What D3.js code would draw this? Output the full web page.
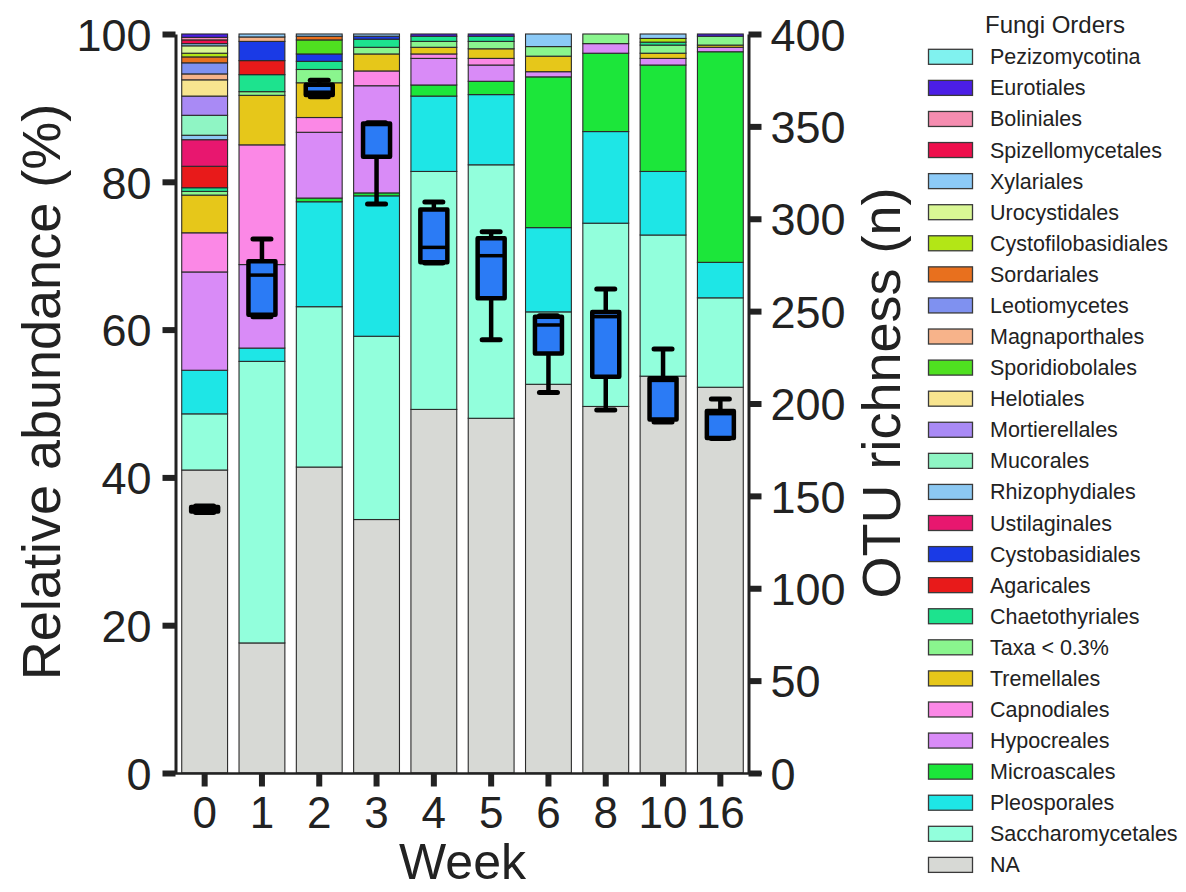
<!DOCTYPE html>
<html>
<head>
<meta charset="utf-8">
<script src="https://cdn.jsdelivr.net/npm/d3@7"></script>
<style>
  html, body { margin: 0; padding: 0; background: #fff; }
  svg { display: block; font-family: "Liberation Sans", Arial, sans-serif; }
</style>
</head>
<body>
<svg id="chart" width="1186" height="892"></svg>
<script>
// Sampling weeks (x categories)
const weeks = ["0", "1", "2", "3", "4", "5", "6", "8", "10", "16"];

// Fungal orders, listed top of legend to bottom (= top of stack to bottom)
const orders = [
  "Pezizomycotina", "Eurotiales", "Boliniales", "Spizellomycetales", "Xylariales",
  "Urocystidales", "Cystofilobasidiales", "Sordariales", "Leotiomycetes", "Magnaporthales",
  "Sporidiobolales", "Helotiales", "Mortierellales", "Mucorales", "Rhizophydiales",
  "Ustilaginales", "Cystobasidiales", "Agaricales", "Chaetothyriales", "Taxa < 0.3%",
  "Tremellales", "Capnodiales", "Hypocreales", "Microascales", "Pleosporales",
  "Saccharomycetales", "NA"
];
const orderColors = [
  "#80f2ef", "#4b1ee6", "#f58db0", "#ee0f4c", "#8ccaf7",
  "#d9f795", "#b3e616", "#e8701e", "#7f91f0", "#f7b38a",
  "#4fe020", "#f8e58f", "#a98af5", "#8ff5c4", "#8cc8f2",
  "#e8176f", "#1a3ae6", "#e81a1a", "#1de38e", "#8af58e",
  "#e6c71a", "#fb88e6", "#d98bf7", "#1ce63a", "#1ee6e6",
  "#92ffdc", "#d7d9d5"
];

// Relative abundance (%) per order, one value per week
const pezizomycotina      = [0, 0, 0, 0, 0, 0, 0, 0, 0, 0];
const eurotiales          = [0.45, 0, 0, 0, 0.3, 0.3, 0, 0, 0, 0.3];
const boliniales          = [0.35, 0, 0, 0, 0, 0, 0, 0, 0, 0];
const spizellomycetales   = [0.5, 0, 0, 0, 0, 0, 0, 0, 0, 0];
const xylariales          = [0.3, 0.4, 0.3, 0.3, 0, 0, 1.7, 0, 0.6, 0];
const urocystidales       = [1.0, 0, 0, 0, 0, 0, 0, 0, 0, 0];
const cystofilobasidiales = [0.5, 0, 0, 0, 0, 0, 0, 0, 0.5, 0];
const sordariales         = [0.8, 0, 0.5, 0, 0, 0, 0, 0, 0, 0];
const leotiomycetes       = [1.5, 0, 0, 0, 0, 0, 0, 0, 0, 0];
const magnaporthales      = [0.8, 0.6, 0, 0, 0, 0, 0, 0, 0, 0];
const sporidiobolales     = [0, 0, 1.9, 0, 0, 0, 0, 0, 0, 0];
const helotiales          = [2.2, 0, 0, 0, 0, 0, 0, 0, 0, 0];
const mortierellales      = [2.6, 0, 0, 0, 0, 0, 0, 0, 0, 0];
const mucorales           = [2.7, 0, 0, 0, 0, 0, 0, 0, 0, 0];
const rhizophydiales      = [0.6, 0, 0, 0, 0, 0, 0, 0, 0, 0];
const ustilaginales       = [3.6, 0, 0, 0, 0, 0, 0, 0, 0, 0];
const cystobasidiales     = [0, 2.6, 1.0, 0.4, 0, 0, 0, 0, 0, 0];
const agaricales          = [2.9, 1.9, 0, 0, 0, 0, 0, 0, 0, 0];
const chaetothyriales     = [0.5, 2.3, 1.1, 1.1, 0.7, 0.7, 0, 0, 0.4, 0];
const taxaMinor           = [0.5, 0.5, 1.8, 0.9, 0.8, 1.0, 1.3, 1.3, 1.1, 1.2];
const tremellales         = [5.1, 6.7, 4.7, 2.3, 0.9, 1.3, 2.1, 0, 0.7, 0.3];
const capnodiales         = [5.3, 16.2, 2.0, 2.0, 0.6, 0.9, 0, 0, 0, 0];
const hypocreales         = [13.3, 11.3, 8.9, 14.5, 3.6, 2.2, 0.7, 1.3, 0.9, 0.6];
const microascales        = [0, 0, 0.5, 0.4, 1.5, 1.8, 20.4, 10.6, 14.4, 28.5];
const pleosporales        = [5.9, 1.8, 14.2, 19.0, 10.2, 9.5, 11.4, 12.4, 8.6, 4.8];
const saccharomycetales   = [7.6, 38.1, 21.7, 24.8, 32.2, 34.3, 9.8, 24.8, 19.1, 12.1];
const unassigned          = [41.0, 17.6, 41.4, 34.3, 49.2, 48.0, 52.6, 49.6, 53.7, 52.2];

const orderValues = [
  pezizomycotina, eurotiales, boliniales, spizellomycetales, xylariales,
  urocystidales, cystofilobasidiales, sordariales, leotiomycetes, magnaporthales,
  sporidiobolales, helotiales, mortierellales, mucorales, rhizophydiales,
  ustilaginales, cystobasidiales, agaricales, chaetothyriales, taxaMinor,
  tremellales, capnodiales, hypocreales, microascales, pleosporales,
  saccharomycetales, unassigned
];

// OTU richness (n) box summaries per week
const otuMin    = [141, 247, 366, 308, 276, 234.5, 206, 196.5, 190, 181];
const otuQ1     = [141.5, 248, 367, 333.5, 276.5, 257, 227, 214.5, 191.3, 181.3];
const otuMedian = [143, 269.5, 368.5, 351, 284.5, 280, 242.5, 247, 212.5, 194.5];
const otuQ3     = [144, 277, 372.5, 351.5, 305, 289.5, 247, 249.5, 213.6, 196];
const otuMax    = [144.5, 289, 375, 352, 309, 293, 247.5, 262, 229.5, 202.5];

// Axis ticks
const abundanceTicks = [0, 20, 40, 60, 80, 100];
const richnessTicks = [0, 50, 100, 150, 200, 250, 300, 350, 400];

// ---------------------------------------------------------------
const svg = d3.select("#chart");
const ink = "#222";

const x = d3.scaleBand(weeks, [176, 749]).paddingInner(0.2).paddingOuter(0.1);
const yLeft = d3.scaleLinear([0, 100], [773, 34]);
const yRight = d3.scaleLinear([0, 400], [773, 34]);
const color = d3.scaleOrdinal(orders, orderColors);

// Table of rows, one per week
const rows = weeks.map((w, i) => {
  const r = { week: w };
  orders.forEach((o, k) => { r[o] = orderValues[k][i]; });
  return r;
});

// Stack from the bottom (NA) upward
const stackKeys = orders.slice().reverse();
const series = d3.stack().keys(stackKeys)(rows);

const bars = svg.append("g").attr("class", "bars");
series.forEach(s => {
  bars.append("g")
    .attr("fill", color(s.key))
    .selectAll("rect")
    .data(s.filter(d => d[1] - d[0] > 0))
    .join("rect")
    .attr("x", d => x(d.data.week))
    .attr("width", x.bandwidth())
    .attr("y", d => yLeft(d[1]))
    .attr("height", d => yLeft(d[0]) - yLeft(d[1]))
    .attr("stroke", "#2b2b2b")
    .attr("stroke-width", 1.1);
});

// Box plots of OTU richness
const boxes = svg.append("g").attr("class", "boxes");
const boxW = 27;
const capW = 18;
weeks.forEach((w, i) => {
  const cx = x(w) + x.bandwidth() / 2;
  const g = boxes.append("g");
  if (otuMax[i] > otuQ3[i]) {
    g.append("line")
      .attr("x1", cx).attr("x2", cx)
      .attr("y1", yRight(otuQ3[i])).attr("y2", yRight(otuMax[i]))
      .attr("stroke", "#000").attr("stroke-width", 4.5);
    g.append("line")
      .attr("x1", cx - capW / 2).attr("x2", cx + capW / 2)
      .attr("y1", yRight(otuMax[i])).attr("y2", yRight(otuMax[i]))
      .attr("stroke", "#000").attr("stroke-width", 5).attr("stroke-linecap", "round");
  }
  if (otuMin[i] < otuQ1[i]) {
    g.append("line")
      .attr("x1", cx).attr("x2", cx)
      .attr("y1", yRight(otuQ1[i])).attr("y2", yRight(otuMin[i]))
      .attr("stroke", "#000").attr("stroke-width", 4.5);
    g.append("line")
      .attr("x1", cx - capW / 2).attr("x2", cx + capW / 2)
      .attr("y1", yRight(otuMin[i])).attr("y2", yRight(otuMin[i]))
      .attr("stroke", "#000").attr("stroke-width", 5).attr("stroke-linecap", "round");
  }
  g.append("rect")
    .attr("x", cx - boxW / 2)
    .attr("width", boxW)
    .attr("y", yRight(otuQ3[i]))
    .attr("height", yRight(otuQ1[i]) - yRight(otuQ3[i]))
    .attr("fill", "#2b7bf5")
    .attr("stroke", "#000")
    .attr("stroke-width", 4.5)
    .attr("stroke-linejoin", "round");
  g.append("line")
    .attr("x1", cx - boxW / 2).attr("x2", cx + boxW / 2)
    .attr("y1", yRight(otuMedian[i])).attr("y2", yRight(otuMedian[i]))
    .attr("stroke", "#000").attr("stroke-width", 3.5);
});

// Axes
const styleAxis = (g, tickWidth) => {
  g.select(".domain").attr("stroke", ink).attr("stroke-width", 3);
  g.selectAll(".tick line").attr("stroke", ink).attr("stroke-width", tickWidth);
  g.selectAll(".tick text").attr("fill", ink).attr("font-family", "Liberation Sans, Arial, sans-serif");
};

const leftAxis = svg.append("g")
  .attr("transform", "translate(175.5,0)")
  .call(d3.axisLeft(yLeft).tickValues(abundanceTicks).tickSize(13).tickSizeOuter(0).tickPadding(11));
styleAxis(leftAxis, 6);
leftAxis.selectAll(".tick text").attr("font-size", 45).attr("dy", "0.36em");

const rightAxis = svg.append("g")
  .attr("transform", "translate(748.5,0)")
  .call(d3.axisRight(yRight).tickValues(richnessTicks).tickSize(13).tickSizeOuter(0).tickPadding(9));
styleAxis(rightAxis, 6);
rightAxis.selectAll(".tick text").attr("font-size", 45).attr("dy", "0.36em");

const bottomAxis = svg.append("g")
  .attr("transform", "translate(0,773.5)")
  .call(d3.axisBottom(x).tickSize(13).tickSizeOuter(0).tickPadding(10));
bottomAxis.select(".domain").attr("d", "M163,0H762").attr("stroke", ink).attr("stroke-width", 2.5);
bottomAxis.selectAll(".tick line").attr("stroke", ink).attr("stroke-width", 6);
bottomAxis.selectAll(".tick text").attr("fill", ink).attr("font-size", 44);

// Axis titles
svg.append("text")
  .attr("transform", "translate(60,392) rotate(-90)")
  .attr("text-anchor", "middle")
  .attr("font-size", 54)
  .attr("fill", ink)
  .text("Relative abundance (%)");

svg.append("text")
  .attr("transform", "translate(900,393) rotate(-90)")
  .attr("text-anchor", "middle")
  .attr("font-size", 54)
  .attr("fill", ink)
  .text("OTU richness (n)");

const [xStart, xEnd] = x.range();
svg.append("text")
  .attr("x", (xStart + xEnd) / 2)
  .attr("y", 879)
  .attr("text-anchor", "middle")
  .attr("font-size", 50)
  .attr("fill", ink)
  .text("Week");

// Legend
const legend = svg.append("g").attr("class", "legend");
legend.append("text")
  .attr("x", 1055).attr("y", 33)
  .attr("text-anchor", "middle")
  .attr("font-size", 24)
  .attr("fill", ink)
  .text("Fungi Orders");

const rowH = 31.08;
const item = legend.selectAll("g.item")
  .data(orders)
  .join("g")
  .attr("class", "item")
  .attr("transform", (d, i) => `translate(0,${56.8 + i * rowH})`);
item.append("rect")
  .attr("x", 928.5).attr("y", -7.5)
  .attr("width", 44).attr("height", 15)
  .attr("fill", d => color(d))
  .attr("stroke", "#3a3a3a")
  .attr("stroke-width", 1.3);
item.append("text")
  .attr("x", 990).attr("y", 7.5)
  .attr("font-size", 21.5)
  .attr("fill", ink)
  .text(d => d);
</script>
</body>
</html>
